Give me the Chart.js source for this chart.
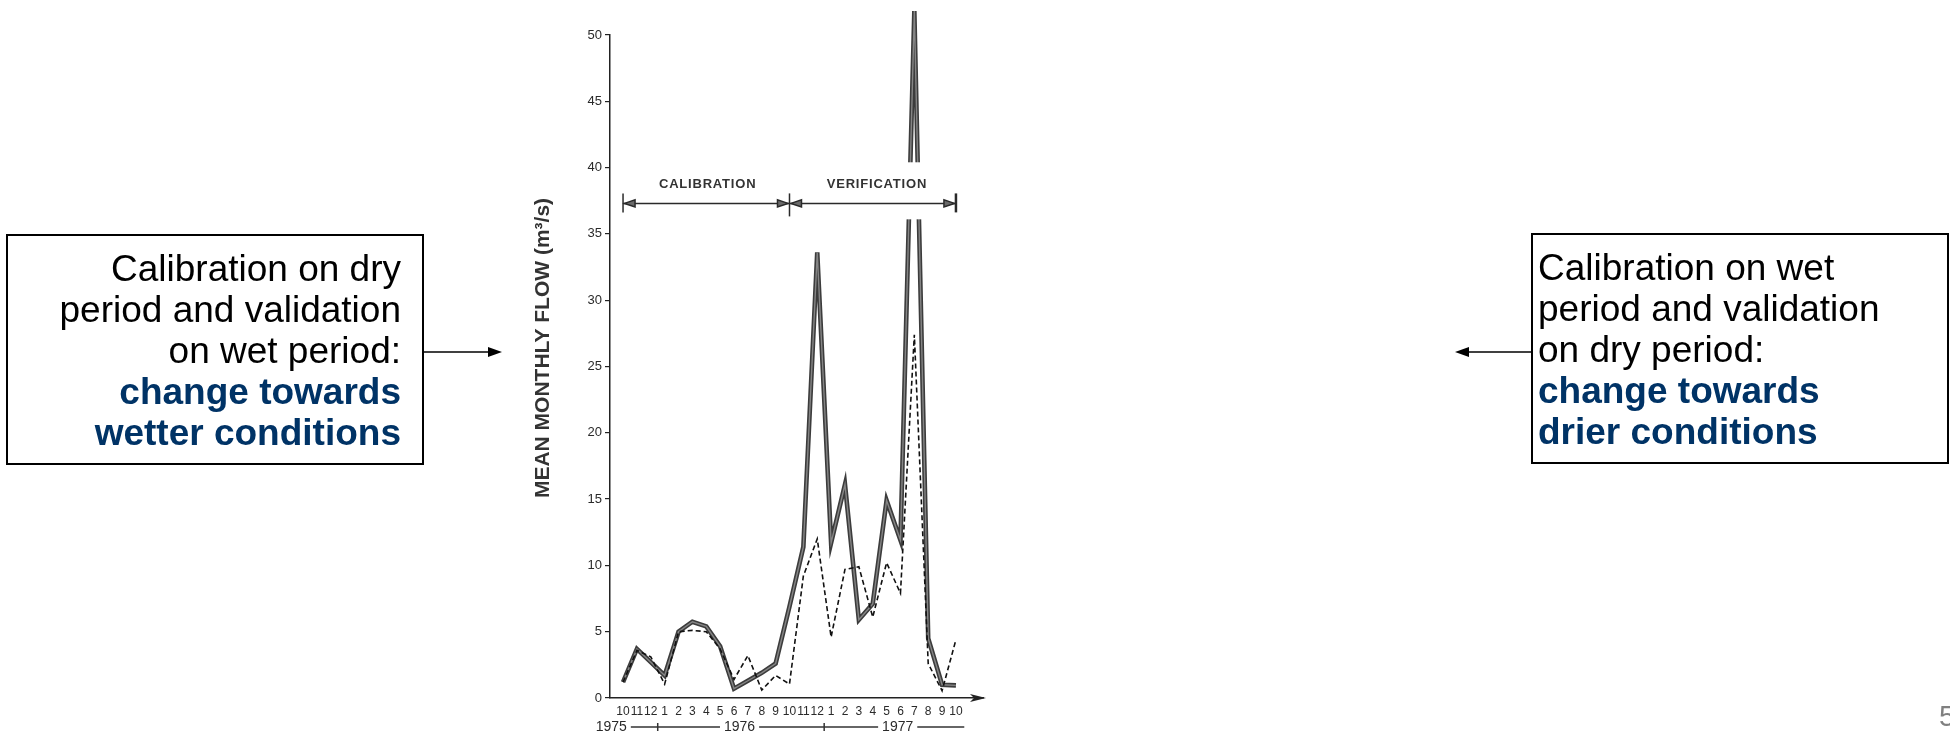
<!DOCTYPE html>
<html>
<head>
<meta charset="utf-8">
<script src="https://cdn.jsdelivr.net/npm/chart.js@4.4.1/dist/chart.umd.min.js"></script>
<style>
  html, body { margin: 0; padding: 0; background: #fff; }
  body { width: 1950px; height: 733px; position: relative; overflow: hidden; font-family: "Liberation Sans", Arial, Helvetica, sans-serif; }
  #wrap { position: absolute; left: 0; top: 0; width: 1950px; height: 733px; }
  .note { position: absolute; box-sizing: border-box; border: 2px solid #000; font-size: 37px; line-height: 41px; color: #000; }
  .note b { color: #003366; }
  .note.left { left: 6px; top: 234px; width: 418px; height: 231px; text-align: right; padding: 12px 21px 0 0; }
  .note.right { left: 1531px; top: 233px; width: 418px; height: 231px; text-align: left; padding: 12px 0 0 5px; }
  .pointer { position: absolute; }
  #page { position: absolute; left: 1939px; top: 700px; font-size: 29px; color: #808080; }
</style>
</head>
<body>
<div id="wrap"><canvas id="flowchart"></canvas></div>

<div class="note left">Calibration on dry<br>period and validation<br>on wet period:<br><b>change towards<br>wetter conditions</b></div>
<svg class="pointer" style="left:424px; top:344px" width="80" height="16">
  <line x1="0" y1="8" x2="66" y2="8" stroke="#000" stroke-width="1.5"/>
  <polygon points="78,8 64,3 64,13" fill="#000"/>
</svg>

<div class="note right">Calibration on wet<br>period and validation<br>on dry period:<br><b>change towards<br>drier conditions</b></div>
<svg class="pointer" style="left:1453px; top:344px" width="80" height="16">
  <line x1="14" y1="8" x2="80" y2="8" stroke="#000" stroke-width="1.5"/>
  <polygon points="2,8 16,3 16,13" fill="#000"/>
</svg>

<div id="page">5</div>

<script>
// เดือน ต.ค. 1975 ถึง ต.ค. 1977
const monthLabels = ['10','11','12','1','2','3','4','5','6','7','8','9','10','11','12','1','2','3','4','5','6','7','8','9','10'];

// เส้นทึบ (observed) และเส้นประ (simulated), m3/s
const observedFlow = [1.2, 3.7, 2.7, 1.7, 5.0, 5.75, 5.4, 3.9, 0.7, 1.3, 1.9, 2.6, 6.9, 11.4, 33.6, 11.7, 16.1, 5.9, 7.1, 14.9, 11.9, 51.8, 4.5, 1.0, 0.95];
const simulatedFlow = [1.2, 3.6, 3.1, 1.05, 5.0, 5.1, 5.0, 3.7, 1.4, 3.2, 0.6, 1.7, 1.05, 9.2, 12.0, 4.6, 9.7, 9.9, 6.1, 10.2, 7.9, 27.4, 2.6, 0.55, 4.4];

const yTicks = [0, 5, 10, 15, 20, 25, 30, 35, 40, 45, 50];

const years = ['1975', '1976', '1977'];
const yearCenters = [-0.85, 8.4, 19.8];
const yearBreaks = [2.5, 14.5];
const yearRowEnd = 24.6;

const periods = [
  { label: 'CALIBRATION', from: 0, to: 12, textAt: 6.1 },
  { label: 'VERIFICATION', from: 12, to: 24, textAt: 18.3 }
];
const periodLevel = 37.3;
const periodTextLevel = 38.7;
const peakGap = { from: 20.4, to: 21.6, low: 36.1, high: 40.4 };

const toPoints = arr => arr.map((v, i) => ({ x: i, y: v }));

const extras = {
  id: 'extras',
  afterDatasetsDraw(chart) {
    const { ctx, chartArea, scales: { x, y } } = chart;
    ctx.save();

    // ช่องว่างสีขาวที่ยอดกราฟ (ตรงแถบ VERIFICATION)
    ctx.fillStyle = '#fff';
    const gx0 = x.getPixelForValue(peakGap.from), gx1 = x.getPixelForValue(peakGap.to);
    const gy0 = y.getPixelForValue(peakGap.high), gy1 = y.getPixelForValue(peakGap.low);
    ctx.fillRect(gx0, gy0, gx1 - gx0, gy1 - gy0);

    // แถบ calibration / verification
    const py = y.getPixelForValue(periodLevel);
    ctx.strokeStyle = '#2a2a2a';
    ctx.fillStyle = '#6a6a6a';
    periods.forEach(p => {
      const a = x.getPixelForValue(p.from), b = x.getPixelForValue(p.to);
      ctx.lineWidth = 1.5;
      ctx.beginPath();
      ctx.moveTo(a, py); ctx.lineTo(b, py);
      ctx.stroke();
      [[a, 1], [b, -1]].forEach(([tip, dir]) => {
        ctx.beginPath();
        ctx.moveTo(tip + dir * 1.5, py);
        ctx.lineTo(tip + dir * 12, py - 3.5);
        ctx.lineTo(tip + dir * 12, py + 3.5);
        ctx.closePath();
        ctx.fill();
        ctx.stroke();
      });
      ctx.font = 'bold 13px "Liberation Sans", Arial, sans-serif';
      if ('letterSpacing' in ctx) ctx.letterSpacing = '0.8px';
      ctx.fillStyle = '#333';
      ctx.textAlign = 'center';
      ctx.textBaseline = 'middle';
      ctx.fillText(p.label, x.getPixelForValue(p.textAt), y.getPixelForValue(periodTextLevel));
      if ('letterSpacing' in ctx) ctx.letterSpacing = '0px';
      ctx.fillStyle = '#6a6a6a';
    });
    const bars = [periods[0].from, periods[0].to, periods[1].to];
    bars.forEach((v, i) => {
      const bx = x.getPixelForValue(v);
      ctx.lineWidth = i === 2 ? 2.5 : 1.5;
      ctx.beginPath();
      ctx.moveTo(bx, py - 10); ctx.lineTo(bx, py + (i === 1 ? 13 : 9));
      ctx.stroke();
    });

    // หัวลูกศรแกน x
    const ax = chartArea.right, ay = chartArea.bottom;
    ctx.fillStyle = '#222';
    ctx.beginPath();
    ctx.moveTo(ax + 3, ay);
    ctx.lineTo(ax - 13, ay - 4);
    ctx.lineTo(ax - 9, ay);
    ctx.lineTo(ax - 13, ay + 4);
    ctx.closePath();
    ctx.fill();

    // แถวปี
    const ry = chartArea.bottom + 29;
    ctx.font = '14px "Liberation Sans", Arial, sans-serif';
    ctx.fillStyle = '#2a2a2a';
    ctx.textAlign = 'center';
    ctx.textBaseline = 'middle';
    const spans = years.map((t, i) => {
      const cx = x.getPixelForValue(yearCenters[i]);
      const w = ctx.measureText(t).width;
      ctx.fillText(t, cx, ry);
      return [cx - w / 2, cx + w / 2];
    });
    ctx.lineWidth = 1.5;
    ctx.strokeStyle = '#333';
    const segEnds = spans.map((s, i) => [s[1] + 4, i < spans.length - 1 ? spans[i + 1][0] - 4 : x.getPixelForValue(yearRowEnd)]);
    segEnds.forEach(([a, b]) => {
      ctx.beginPath(); ctx.moveTo(a, ry); ctx.lineTo(b, ry); ctx.stroke();
    });
    yearBreaks.forEach(v => {
      const bx = x.getPixelForValue(v);
      ctx.beginPath(); ctx.moveTo(bx, ry - 4); ctx.lineTo(bx, ry + 4); ctx.stroke();
    });

    // ชื่อแกน y
    ctx.translate(543, 348);
    ctx.rotate(-Math.PI / 2);
    ctx.font = 'bold 21px "Liberation Sans", Arial, sans-serif';
    ctx.fillStyle = '#333';
    ctx.fillText('MEAN MONTHLY FLOW (m\u00B3/s)', 0, 0);
    ctx.restore();
  }
};

const ctx = document.getElementById('flowchart').getContext('2d');
new Chart(ctx, {
  type: 'line',
  data: {
    datasets: [
      {
        label: 'observed',
        data: toPoints(observedFlow),
        borderColor: '#3c3c3c',
        borderWidth: 4.6,
        pointRadius: 0,
        tension: 0,
        clip: false,
        order: 3
      },
      {
        label: 'observed core',
        data: toPoints(observedFlow),
        borderColor: '#858585',
        borderWidth: 1.4,
        pointRadius: 0,
        tension: 0,
        clip: false,
        order: 2
      },
      {
        label: 'simulated',
        data: toPoints(simulatedFlow),
        borderColor: '#111',
        borderWidth: 1.6,
        borderDash: [5, 3],
        pointRadius: 0,
        tension: 0,
        clip: false,
        order: 1
      }
    ]
  },
  options: {
    responsive: true,
    maintainAspectRatio: false,
    devicePixelRatio: 1,
    animation: false,
    layout: { padding: { left: 500, right: 967, top: 35, bottom: 0 } },
    plugins: {
      legend: { display: false },
      tooltip: { enabled: false }
    },
    scales: {
      x: {
        type: 'linear',
        min: -0.94,
        max: 25.95,
        afterBuildTicks: axis => { axis.ticks = monthLabels.map((_, i) => ({ value: i })); },
        afterFit: scale => { scale.height = 35; },
        grid: { display: true, drawOnChartArea: false, drawTicks: false },
        border: { color: '#222', width: 1.5 },
        ticks: {
          autoSkip: false,
          maxRotation: 0,
          padding: 6,
          color: '#2a2a2a',
          font: { family: '"Liberation Sans", Arial, sans-serif', size: 12 },
          callback: value => monthLabels[value]
        }
      },
      y: {
        min: 0,
        max: 50,
        afterBuildTicks: axis => { axis.ticks = yTicks.map(v => ({ value: v })); },
        afterFit: scale => { scale.width = 110; },
        grid: { display: true, drawOnChartArea: false, drawTicks: true, tickLength: 5, color: '#222', lineWidth: 1.2 },
        border: { color: '#222', width: 1.5 },
        ticks: {
          padding: 3,
          color: '#2a2a2a',
          font: { family: '"Liberation Sans", Arial, sans-serif', size: 13 }
        }
      }
    }
  },
  plugins: [extras]
});
</script>
</body>
</html>
